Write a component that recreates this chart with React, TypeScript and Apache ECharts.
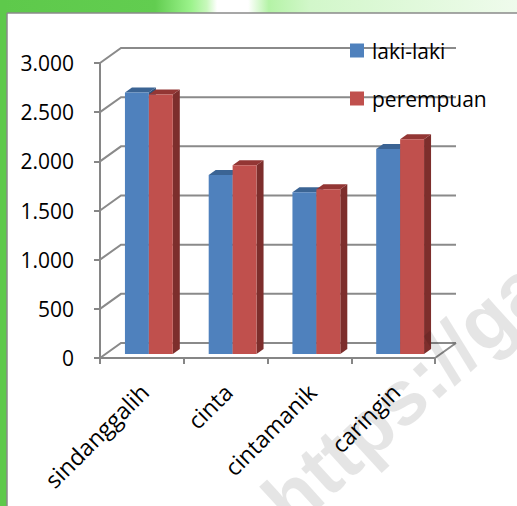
import React, { useEffect, useRef } from "react";
import * as echarts from "echarts";

const categories = ["sindanggalih", "cinta", "cintamanik", "caringin"];
const lakiLaki = [2660, 1820, 1645, 2085];
const perempuan = [2640, 1920, 1675, 2185];
const yTicks = [0, 500, 1000, 1500, 2000, 2500, 3000];
const seriesNames = ["laki-laki", "perempuan"];

const FONT = "'Open Sans', 'Noto Sans', sans-serif";
const DX = 21; // depth offset of back wall
const DY = -15;
const OX = 7; // front face of bars shift
const OY = -4;
const SD = 7; // bar depth
const SDY = -5;

const palettes = [
  { front: "#4f81bd", top: "#3b6494", side: "#2f5078" },
  { front: "#c0504d", top: "#933634", side: "#7d2e2c" },
];

function fmt(v: number): string {
  if (v >= 1000) {
    const t = Math.floor(v / 1000);
    const r = String(v % 1000).padStart(3, "0");
    return t + "." + r;
  }
  return String(v);
}

function barSeries(idx: number, values: number[]) {
  const pal = palettes[idx];
  return {
    type: "custom",
    name: seriesNames[idx],
    itemStyle: { color: pal.front },
    z: 3 + idx,
    data: values.map((v, i) => [i, v]),
    renderItem: (params: any, api: any) => {
      const i = api.value(0);
      const v = api.value(1);
      const base = api.coord([i, 0]);
      const top = api.coord([i, v]);
      const band = api.size([1, 0])[0];
      const w = (band * 24) / 84;
      const cx = base[0];
      const xl = idx === 0 ? cx - w + OX : cx + OX;
      const xr = xl + w;
      const yb = base[1] + OY;
      const yt = top[1] + OY;
      return {
        type: "group",
        children: [
          {
            type: "polygon",
            shape: { points: [[xr, yt], [xr + SD, yt + SDY], [xr + SD, yb + SDY], [xr, yb]] },
            style: { fill: pal.side },
          },
          {
            type: "polygon",
            shape: { points: [[xl, yt], [xl + SD, yt + SDY], [xr + SD, yt + SDY], [xr, yt]] },
            style: { fill: pal.top },
          },
          {
            type: "rect",
            shape: { x: xl, y: yt, width: w, height: yb - yt },
            style: { fill: pal.front },
          },
        ],
      };
    },
  };
}

export default function App() {
  const ref = useRef<HTMLDivElement>(null);
  useEffect(() => {
    if (!ref.current) return;
    const chart = echarts.init(ref.current, null, { renderer: "svg" });
    const option: any = {
      animation: false,
      backgroundColor: "#ffffff",
      grid: { left: 100, top: 63, width: 335, height: 295, containLabel: false },
      legend: {
        orient: "vertical",
        left: 350,
        top: 40,
        itemWidth: 14,
        itemHeight: 14,
        itemGap: 27,
        padding: 0,
        icon: "rect",
        data: seriesNames,
        textStyle: { fontSize: 21, fontFamily: FONT, color: "#000", padding: [0, 0, 0, 3] },
      },
      xAxis: {
        type: "category",
        data: categories,
        axisLine: { show: true, lineStyle: { color: "#868686", width: 2 } },
        axisTick: { show: true, length: 6, lineStyle: { color: "#868686", width: 2 } },
        axisLabel: {
          rotate: 45,
          margin: 16,
          fontSize: 23,
          fontFamily: FONT,
          color: "#000",
          verticalAlign: "top",
          padding: [0, 8, 0, 0],
        },
        splitLine: { show: false },
      },
      yAxis: {
        type: "value",
        min: 0,
        max: 3000,
        interval: 500,
        axisLine: { show: true, lineStyle: { color: "#868686", width: 2 } },
        axisTick: { show: true, length: 6, lineStyle: { color: "#868686", width: 2 } },
        axisLabel: { margin: 26, fontSize: 21, fontFamily: FONT, color: "#000", formatter: (v: number) => fmt(v) },
        splitLine: { show: false },
      },
      graphic: [
        {
          type: "rect",
          shape: { x: 0, y: 0, width: 517, height: 13 },
          style: {
            fill: {
              type: "linear",
              x: 0, y: 0, x2: 1, y2: 0,
              colorStops: [
                { offset: 0, color: "#5ec94b" },
                { offset: 0.3, color: "#62cd50" },
                { offset: 0.37, color: "#9cf38c" },
                { offset: 0.4, color: "#c8f8bc" },
                { offset: 0.42, color: "#ffffff" },
                { offset: 0.48, color: "#ffffff" },
                { offset: 0.52, color: "#b4f3a6" },
                { offset: 0.6, color: "#d2f7ca" },
                { offset: 1, color: "#effbec" },
              ],
            },
          },
          z: 0,
        },
        { type: "rect", shape: { x: 0, y: 0, width: 7, height: 506 }, style: { fill: "#5ec94b" }, z: 1 },
        { type: "line", shape: { x1: 7, y1: 13, x2: 517, y2: 13 }, style: { stroke: "#8a8a8a", lineWidth: 1.5 }, z: 1 },
        { type: "line", shape: { x1: 7, y1: 13, x2: 7, y2: 506 }, style: { stroke: "#8a8a8a", lineWidth: 1.5 }, z: 1 },
        {
          type: "text",
          x: 275,
          y: 512,
          rotation: 0.74,
          style: {
            text: "https://gar",
            font: "bold 78px 'Liberation Sans', Arial, sans-serif",
            fill: "rgba(0,0,0,0.1)",
            align: "left",
            verticalAlign: "middle",
          },
          z: 100,
        },
      ],
      series: [
        {
          type: "custom",
          name: "walls",
          silent: true,
          z: 1,
          data: yTicks.map((v) => [0, v]),
          renderItem: (params: any, api: any) => {
            const v = api.value(1);
            const y = api.coord([0, v])[1];
            const cs = params.coordSys;
            const x0 = cs.x;
            const x1 = cs.x + cs.width;
            const children: any[] = [
              {
                type: "polyline",
                shape: { points: [[x0, y], [x0 + DX, y + DY], [x1 + DX, y + DY]] },
                style: { stroke: "#8a8a8a", lineWidth: 2, fill: null },
              },
            ];
            if (v === 0) {
              children.push({
                type: "line",
                shape: { x1: x1, y1: y, x2: x1 + DX, y2: y + DY },
                style: { stroke: "#8a8a8a", lineWidth: 2 },
              });
            }
            return { type: "group", children };
          },
        },
        barSeries(0, lakiLaki),
        barSeries(1, perempuan),
      ],
    };
    chart.setOption(option);
    return () => chart.dispose();
  }, []);
  return (
    <div
      ref={ref}
      style={{ position: "fixed", left: 0, top: 0, width: 517, height: 506 }}
    />
  );
}
